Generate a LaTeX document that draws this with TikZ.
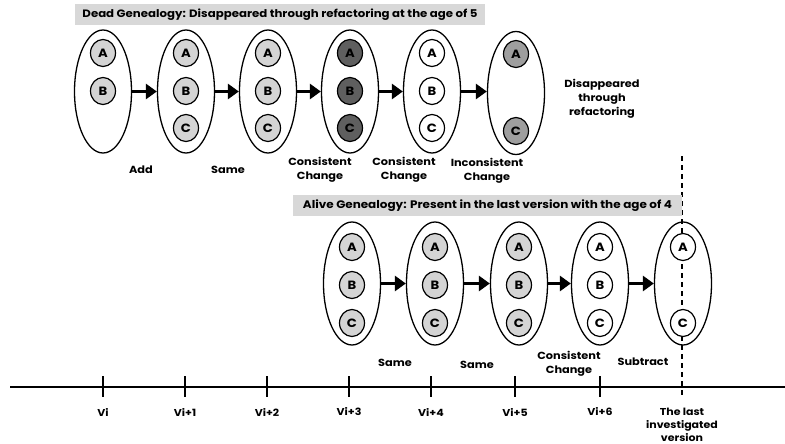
\documentclass[tikz,border=0pt]{standalone}
\usepackage{fontspec}
\setmainfont{Poppins}
\newfontfamily\gill{Poppins}[FakeStretch=1.1]
\usetikzlibrary{shapes.geometric,arrows.meta}
\definecolor{lightg}{RGB}{212,212,212}
\definecolor{darkg}{RGB}{95,95,95}
\definecolor{midg}{RGB}{158,158,158}
\definecolor{boxg}{RGB}{216,216,216}
\begin{document}
\begin{tikzpicture}[x=1pt,y=-1pt,
  version/.style={ellipse, draw, line width=1.3pt, minimum width=57pt, minimum height=123pt, inner sep=0pt},
  clone/.style={ellipse, draw, line width=1.2pt, minimum width=25pt, minimum height=27pt, inner sep=0pt, fill=lightg, font=\gill\bfseries\fontsize{12}{12}\selectfont},
  darkclone/.style={clone, fill=darkg},
  midclone/.style={clone, fill=midg},
  whiteclone/.style={clone, fill=white},
  evo/.style={line width=3pt, -{Triangle[length=11pt,width=15pt]}},
  lbl/.style={font=\gill\bfseries\fontsize{10.3}{14}\selectfont, align=center, inner sep=0pt},
  tlbl/.style={font=\gill\bfseries\fontsize{10}{13}\selectfont, align=center, inner sep=0pt},
  titlebox/.style={fill=boxg, inner sep=0pt, minimum height=21pt},
  tick/.style={line width=2pt},
  vline/.style={line width=2.7pt, dash pattern=on 5pt off 4pt}
]
\useasboundingbox (0,0) rectangle (785,444);

% dashed line of the last investigated version
\coordinate (d0) at (682,156);
\coordinate (d1) at (682,398);
\draw[vline] (d0) -- (d1);

% titles
\node[titlebox, minimum width=410pt, font=\gill\bfseries\fontsize{10.7}{10.7}\selectfont] (t1) at (280,14.5) {Dead Genealogy: Disappeared through refactoring at the age of 5};
\node[titlebox, minimum width=389pt, font=\gill\bfseries\fontsize{10.9}{10.9}\selectfont] (t2) at (487.5,205.5) {Alive Genealogy: Present in the last version with the age of 4};

% dead genealogy
\node[version] (e1) at (103,91.5) {};
\node[version] (e2) at (186,91.5) {};
\node[version] (e3) at (268,91.5) {};
\node[version] (e4) at (350,91.5) {};
\node[version] (e5) at (432,91.5) {};
\node[version] (e6) at (516,93) {};

\node[clone] (e1a) at (103,53) {A};
\node[clone] (e1b) at (103,91) {B};
\node[clone] (e2a) at (186,53) {A};
\node[clone] (e2b) at (186,91) {B};
\node[clone] (e2c) at (186,128) {C};
\node[clone] (e3a) at (268,53) {A};
\node[clone] (e3b) at (268,91) {B};
\node[clone] (e3c) at (268,128) {C};
\node[darkclone] (e4a) at (350,53) {A};
\node[darkclone] (e4b) at (350,91) {B};
\node[darkclone] (e4c) at (350,128) {C};
\node[whiteclone] (e5a) at (432,53) {A};
\node[whiteclone] (e5b) at (432,91) {B};
\node[whiteclone] (e5c) at (432,128) {C};
\node[midclone] (e6a) at (516,54) {A};
\node[midclone] (e6c) at (516,131) {C};

\draw[evo] (e1.east) -- (e2.west);
\draw[evo] (e2.east) -- (e3.west);
\draw[evo] (e3.east) -- (e4.west);
\draw[evo] (e4.east) -- (e5.west);
\draw[evo] (e5.east) -- (e6.west |- e5.east);

\node[lbl] (l1) at (141,170) {Add};
\node[lbl] (l2) at (228,170) {Same};
\node[lbl] (l3) at (320,170) {Consistent\\Change};
\node[lbl] (l4) at (404,170) {Consistent\\Change};
\node[lbl] (l5) at (487,171) {Inconsistent\\Change};
\node[lbl] (l6) at (602,99) {Disappeared\\through\\refactoring};

% alive genealogy
\node[version] (f1) at (352,283.5) {};
\node[version] (f2) at (435,283.5) {};
\node[version] (f3) at (519,283.5) {};
\node[version] (f4) at (600,283.5) {};
\node[version] (f5) at (683,283.5) {};

\node[clone] (f1a) at (352,247) {A};
\node[clone] (f1b) at (352,285) {B};
\node[clone] (f1c) at (352,323) {C};
\node[clone] (f2a) at (435,247) {A};
\node[clone] (f2b) at (435,285) {B};
\node[clone] (f2c) at (435,323) {C};
\node[clone] (f3a) at (519,247) {A};
\node[clone] (f3b) at (519,285) {B};
\node[clone] (f3c) at (519,323) {C};
\node[whiteclone] (f4a) at (600,247) {A};
\node[whiteclone] (f4b) at (600,285) {B};
\node[whiteclone] (f4c) at (600,323) {C};
\node[whiteclone] (f5a) at (683,247) {A};
\node[whiteclone] (f5c) at (683,323) {C};

\draw[evo] (f1.east) -- (f2.west);
\draw[evo] (f2.east) -- (f3.west);
\draw[evo] (f3.east) -- (f4.west);
\draw[evo] (f4.east) -- (f5.west);

\node[lbl] (m1) at (395,363) {Same};
\node[lbl] (m2) at (477,365) {Same};
\node[lbl] (m3) at (569,364) {Consistent\\Change};
\node[lbl] (m4) at (643,362) {Subtract};

% timeline
\coordinate (a0) at (10,387);
\coordinate (a1) at (785,387);
\draw[line width=2.5pt] (a0) -- (a1);
\foreach \x/\n in {103/Vi, 185/Vi+1, 267/Vi+2, 349/Vi+3, 431/Vi+4, 515/Vi+5, 600/Vi+6}{
  \draw[tick] (\x,376) -- (\x,397);
  \node[tlbl] (v\x) at (\x,412) {\n};
}
\node[tlbl] (vlast) at (682,424.5) {The last\\investigated\\version};
\end{tikzpicture}
\end{document}
